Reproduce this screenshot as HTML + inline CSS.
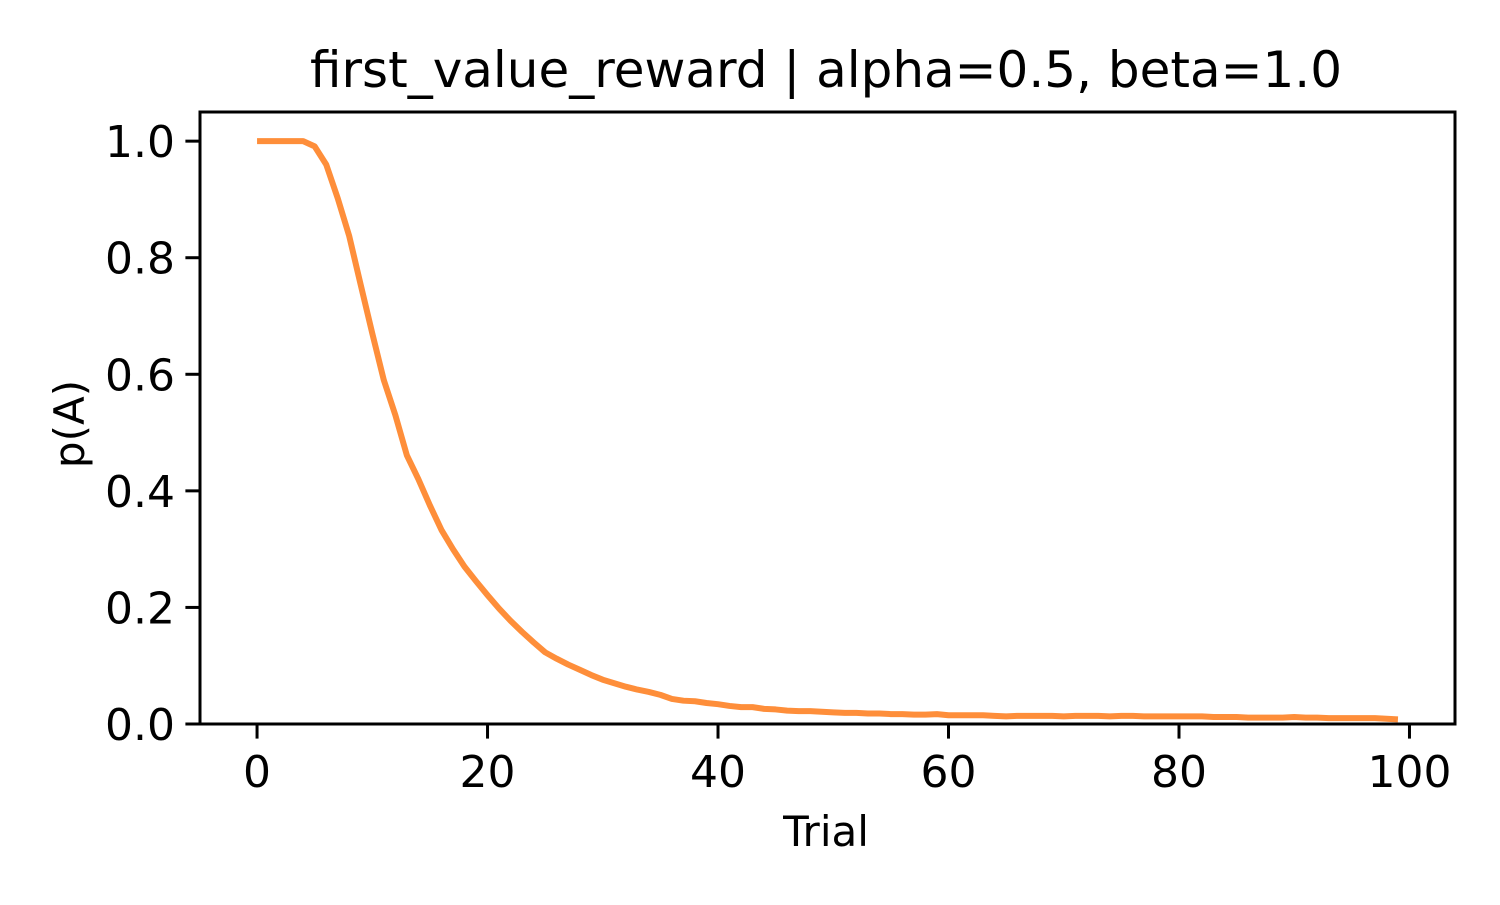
<!DOCTYPE html>
<html><head><meta charset="utf-8"><style>
html,body{margin:0;padding:0;background:#fff;}
svg text{font-family:"DejaVu Sans","Liberation Sans",sans-serif;fill:#000;}
</style></head><body>
<svg id="chart" width="1500" height="900" viewBox="0 0 1500 900">
<rect width="1500" height="900" fill="#fff"/>
<text x="826" y="87" font-size="50" text-anchor="middle">first_value_reward | alpha=0.5, beta=1.0</text>
<g id="xticks"></g>
<g id="yticks"></g>
<path id="series" fill="none" stroke="#fe8e3a" stroke-width="6" stroke-linejoin="round"/>
<rect x="200" y="112" width="1255" height="612" fill="none" stroke="#000" stroke-width="3"/>
<text x="826" y="846" font-size="42" text-anchor="middle">Trial</text>
<text transform="translate(84,424) rotate(-90)" font-size="42" text-anchor="middle">p(A)</text>
</svg>
<script>
const xTicks = [0, 20, 40, 60, 80, 100];
const yTicks = [0.0, 0.2, 0.4, 0.6, 0.8, 1.0];
const pA = [1,1,1,1,1,0.991,0.96,0.902,0.837,0.753,0.67,0.59,0.53,0.461,0.42,0.375,0.333,0.30,0.27,0.245,
0.221,0.198,0.177,0.158,0.14,0.123,0.112,0.102,0.093,0.084,0.076,0.070,0.064,0.059,0.055,0.050,0.043,0.040,0.039,0.036,
0.034,0.031,0.029,0.029,0.026,0.025,0.023,0.022,0.022,0.021,0.020,0.019,0.019,0.018,0.018,0.017,0.017,0.016,0.016,0.017,
0.015,0.015,0.015,0.015,0.014,0.013,0.014,0.014,0.014,0.014,0.013,0.014,0.014,0.014,0.013,0.014,0.014,0.013,0.013,0.013,
0.013,0.013,0.013,0.012,0.012,0.012,0.011,0.011,0.011,0.011,0.012,0.011,0.011,0.010,0.010,0.010,0.010,0.010,0.009,0.008];
const NS = "http://www.w3.org/2000/svg";
const X0 = 200, X1 = 1455, Y0 = 724, Y1 = 112;
const xMin = -4.95, xMax = 103.95, yMin = 0, yMax = 1.05;
const sx = v => X0 + (v - xMin) / (xMax - xMin) * (X1 - X0);
const sy = v => Y0 - (v - yMin) / (yMax - yMin) * (Y0 - Y1);
function mk(tag, attrs, parent) {
  const e = document.createElementNS(NS, tag);
  for (const k in attrs) e.setAttribute(k, attrs[k]);
  parent.appendChild(e); return e;
}
const gx = document.getElementById('xticks');
xTicks.forEach(t => {
  const l = mk('line', {x1: sx(t), x2: sx(t), y1: Y0, y2: Y0 + 14.6, stroke: '#000', 'stroke-width': 3}, gx);
  
  
  const tx = mk('text', {x: sx(t), y: Y0 + 63, 'font-size': 44, 'text-anchor': 'middle'}, gx);
  tx.textContent = String(t);
  
  
});
const gy = document.getElementById('yticks');
yTicks.forEach(t => {
  const l = mk('line', {x1: X0 - 14.6, x2: X0, y1: sy(t), y2: sy(t), stroke: '#000', 'stroke-width': 3}, gy);
  
  
  const tx = mk('text', {x: X0 - 25, y: sy(t) + 16, 'font-size': 44, 'text-anchor': 'end'}, gy);
  tx.textContent = t.toFixed(1);
  
  
});
document.getElementById('series').setAttribute('d',
  pA.map((v, i) => (i ? 'L' : 'M') + sx(i).toFixed(2) + ',' + sy(v).toFixed(2)).join(' '));
</script>
</body></html>
